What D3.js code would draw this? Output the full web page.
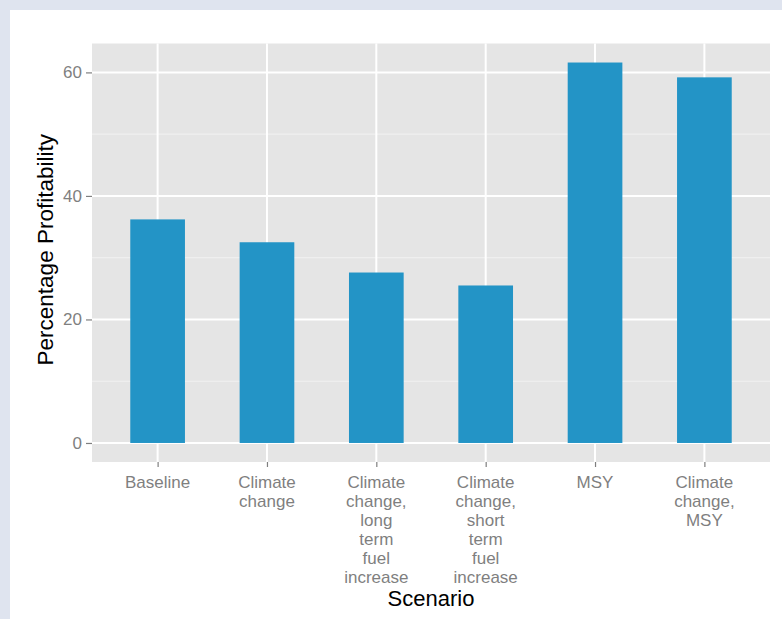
<!DOCTYPE html>
<html>
<head>
<meta charset="utf-8">
<script src="https://cdn.jsdelivr.net/npm/d3@7"></script>
<style>
  html, body { margin: 0; padding: 0; background: #dfe4ef; }
  svg { display: block; }
  text { font-family: "Liberation Sans", Arial, sans-serif; }
</style>
</head>
<body>
<script>
const categories = [
  ["Baseline"],
  ["Climate", "change"],
  ["Climate", "change,", "long", "term", "fuel", "increase"],
  ["Climate", "change,", "short", "term", "fuel", "increase"],
  ["MSY"],
  ["Climate", "change,", "MSY"]
];
const values = [36.2, 32.5, 27.6, 25.5, 61.6, 59.2];
const yTicks = [0, 20, 40, 60];
const yMinor = [10, 30, 50];
const xTitle = "Scenario";
const yTitle = "Percentage Profitability";

const W = 782, H = 619;
const svg = d3.select("body").append("svg").attr("width", W).attr("height", H);

// background
svg.append("rect").attr("width", W).attr("height", H).attr("fill", "#dfe4ef");
svg.append("rect").attr("x", 10).attr("y", 10).attr("width", W - 10).attr("height", H - 10).attr("fill", "#ffffff");

const panel = { left: 92, right: 770, top: 43.5, bottom: 462 };

const names = categories.map(d => d.join(" "));
const dmax = d3.max(values), dmin = 0;
const pad = (dmax - dmin) * 0.05;

const y = d3.scaleLinear().domain([dmin - pad, dmax + pad]).range([panel.bottom, panel.top]);
const step = (panel.right - panel.left) / (names.length - 1 + 1.2);
const x = d3.scalePoint().domain(names)
  .range([panel.left + 0.6 * step, panel.right - 0.6 * step]);
const barW = step * 0.5;

// panel
svg.append("rect")
  .attr("x", panel.left).attr("y", panel.top)
  .attr("width", panel.right - panel.left).attr("height", panel.bottom - panel.top)
  .attr("fill", "#e5e5e5");

// minor grid
svg.selectAll(".minor").data(yMinor).enter().append("line")
  .attr("x1", panel.left).attr("x2", panel.right)
  .attr("y1", d => y(d)).attr("y2", d => y(d))
  .attr("stroke", "#f2f2f2").attr("stroke-width", 1);

// major grid
svg.selectAll(".majory").data(yTicks).enter().append("line")
  .attr("x1", panel.left).attr("x2", panel.right)
  .attr("y1", d => y(d)).attr("y2", d => y(d))
  .attr("stroke", "#ffffff").attr("stroke-width", 2);
svg.selectAll(".majorx").data(names).enter().append("line")
  .attr("y1", panel.top).attr("y2", panel.bottom)
  .attr("x1", d => x(d)).attr("x2", d => x(d))
  .attr("stroke", "#ffffff").attr("stroke-width", 2);

// bars
svg.selectAll(".bar").data(values).enter().append("rect")
  .attr("x", (d, i) => x(names[i]) - barW / 2)
  .attr("width", barW)
  .attr("y", d => y(d))
  .attr("height", d => y(0) - y(d))
  .attr("fill", "#2394c6");

// y axis
const yAxis = d3.axisLeft(y).tickValues(yTicks).tickSize(6).tickPadding(4);
const gy = svg.append("g").attr("transform", `translate(${panel.left},0)`).call(yAxis);
gy.select(".domain").remove();
gy.selectAll(".tick line").attr("stroke", "#7f7f7f").attr("stroke-width", 1.2);
gy.selectAll(".tick text").attr("fill", "#7f7f7f").attr("font-size", 17)
  .attr("font-family", "Liberation Sans, Arial, sans-serif");

// x axis
const xAxis = d3.axisBottom(x).tickSize(5).tickFormat(() => "");
const gx = svg.append("g").attr("transform", `translate(0,${panel.bottom})`).call(xAxis);
gx.select(".domain").remove();
gx.selectAll(".tick line").attr("stroke", "#7f7f7f").attr("stroke-width", 1.2);

// x tick labels (multi-line)
categories.forEach((lines, i) => {
  const t = svg.append("text")
    .attr("text-anchor", "middle")
    .attr("fill", "#7f7f7f")
    .attr("font-size", 17);
  lines.forEach((ln, j) => {
    t.append("tspan").attr("x", x(names[i])).attr("y", 488 + j * 19).text(ln);
  });
});

// axis titles
svg.append("text")
  .attr("x", (panel.left + panel.right) / 2).attr("y", 606)
  .attr("text-anchor", "middle").attr("font-size", 22).attr("fill", "#000")
  .text(xTitle);
svg.append("text")
  .attr("transform", `translate(53,${(panel.top + panel.bottom) / 2 - 3}) rotate(-90)`)
  .attr("text-anchor", "middle").attr("font-size", 22.5).attr("fill", "#000")
  .text(yTitle);
</script>
</body>
</html>
